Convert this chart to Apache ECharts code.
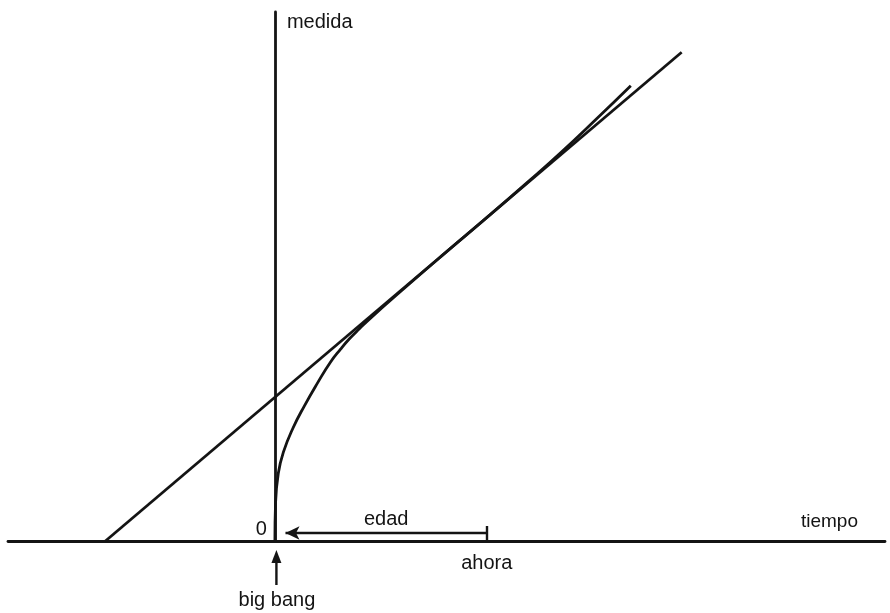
<!DOCTYPE html>
<html>
<head>
<meta charset="utf-8">
<script src="https://cdn.jsdelivr.net/npm/echarts@6/dist/echarts.min.js"></script>
<style>
  html, body { margin: 0; padding: 0; background: #fff; }
  #chart { width: 890px; height: 613px; }
</style>
</head>
<body>
<div id="chart"></div>
<script>
// Time is measured in units of the present age (big bang = 0, now = 1);
// size uses the same unit so the diagram keeps its proportions.
const timeRange = [-1.26, 2.88];
const sizeRange = [0, 2.5];

// Straight line: constant expansion rate extrapolated backwards from today.
const tangentLine = [[-0.80, 0], [1.92, 2.31]];

// Actual growth of the scale since the big bang; it touches the straight
// line at the present time.
const expansionCurve = [
  [0, 0], [0.003, 0.18], [0.016, 0.32], [0.04, 0.42], [0.086, 0.535],
  [0.14, 0.64], [0.2, 0.745], [0.262, 0.845], [0.31, 0.907], [0.354, 0.958],
  [0.40, 1.004], [0.45, 1.052], [0.6, 1.185], [0.8, 1.358], [1.0, 1.528],
  [1.2, 1.702], [1.35, 1.836], [1.52, 1.997], [1.68, 2.152]
];

// Age arrow running from the big bang to now.
const ageArrow = { from: 0.05, to: 1, level: 0.038 };

const nowTime = 1;

const labels = {
  size: 'medida',
  time: 'tiempo',
  age: 'edad',
  now: 'ahora',
  origin: '0',
  bigBang: 'big bang'
};

const ink = '#141414';
const font = '"Liberation Sans", Arial, Helvetica, sans-serif';
const fontSize = 20;
const stroke = 2.8;

const chart = echarts.init(document.getElementById('chart'), null, { renderer: 'canvas' });

chart.setOption({
  animation: false,
  backgroundColor: '#ffffff',
  grid: { left: 8, right: 5, top: 12, bottom: 72, containLabel: false, outerBoundsMode: 'none' },
  xAxis: {
    type: 'value',
    min: timeRange[0],
    max: timeRange[1],
    name: labels.time,
    nameLocation: 'end',
    nameGap: -27,
    nameTextStyle: {
      color: ink, fontFamily: font, fontSize: 19,
      align: 'right', verticalAlign: 'bottom', padding: [0, 0, 10, 0]
    },
    axisLine: { onZero: true, lineStyle: { color: ink, width: stroke } },
    axisTick: {
      show: true, inside: true, length: 15, customValues: [nowTime],
      lineStyle: { color: ink, width: 2.4 }
    },
    axisLabel: {
      show: true, customValues: [nowTime], margin: 12,
      formatter: () => labels.now,
      color: ink, fontFamily: font, fontSize: fontSize
    },
    splitLine: { show: false }
  },
  yAxis: {
    type: 'value',
    min: sizeRange[0],
    max: sizeRange[1],
    name: labels.size,
    nameLocation: 'end',
    nameGap: -10,
    nameTextStyle: {
      color: ink, fontFamily: font, fontSize: fontSize,
      align: 'left', verticalAlign: 'middle', padding: [0, 0, 0, 12]
    },
    axisLine: { onZero: true, lineStyle: { color: ink, width: stroke } },
    axisTick: { show: false },
    axisLabel: { show: false },
    splitLine: { show: false }
  },
  series: [
    {
      type: 'line',
      data: tangentLine,
      symbol: 'none',
      lineStyle: { color: ink, width: stroke },
      emphasis: { disabled: true },
      silent: true,
      markLine: {
        silent: true,
        symbol: ['arrow', 'none'],
        symbolSize: [10, 14],
        lineStyle: { color: ink, width: 2.4, type: 'solid' },
        label: {
          show: true, position: 'middle', formatter: labels.age,
          color: ink, fontFamily: font, fontSize: fontSize, distance: 3
        },
        data: [[
          { coord: [ageArrow.from, ageArrow.level] },
          { coord: [ageArrow.to, ageArrow.level] }
        ]]
      }
    },
    {
      type: 'line',
      data: expansionCurve,
      symbol: 'none',
      smooth: 0.5,
      lineStyle: { color: ink, width: stroke },
      emphasis: { disabled: true },
      silent: true
    }
  ]
});

// The origin label and the big bang marker are anchored to the origin's
// pixel position; the marker hangs below the time axis, outside the grid.
const origin = chart.convertToPixel({ gridIndex: 0 }, [0, 0]);
chart.setOption({
  graphic: [
    {
      type: 'text',
      x: origin[0] - 8,
      y: origin[1] - 12,
      style: {
        text: labels.origin,
        fill: ink,
        font: fontSize + 'px ' + font,
        align: 'right',
        verticalAlign: 'middle'
      }
    },
    {
      type: 'line',
      shape: { x1: origin[0] + 1.5, y1: origin[1] + 44, x2: origin[0] + 1.5, y2: origin[1] + 18 },
      style: { stroke: ink, lineWidth: 2.4 }
    },
    {
      type: 'polygon',
      shape: {
        points: [
          [origin[0] + 1.5, origin[1] + 9],
          [origin[0] - 3.5, origin[1] + 22],
          [origin[0] + 6.5, origin[1] + 22]
        ]
      },
      style: { fill: ink }
    },
    {
      type: 'text',
      x: origin[0] + 2,
      y: origin[1] + 59,
      style: {
        text: labels.bigBang,
        fill: ink,
        font: fontSize + 'px ' + font,
        align: 'center',
        verticalAlign: 'middle'
      }
    }
  ]
});
</script>
</body>
</html>
